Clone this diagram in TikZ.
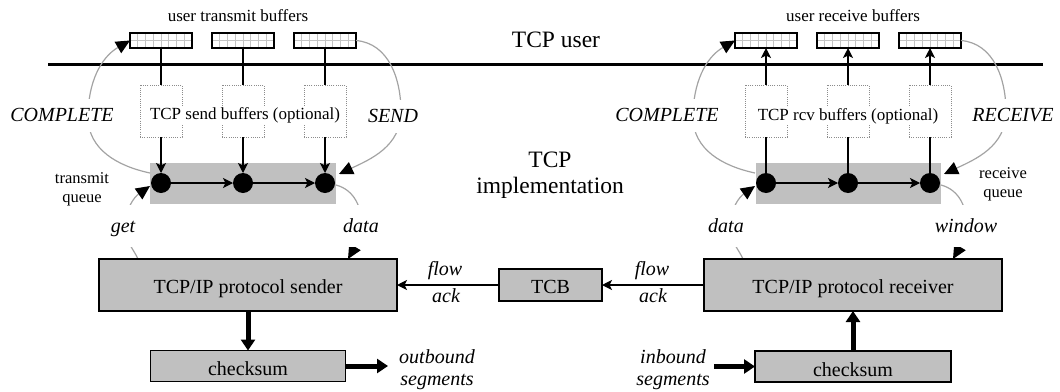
\documentclass[tikz,border=0pt]{standalone}
\usepackage{fontspec}
\setmainfont{Liberation Serif}
\usetikzlibrary{arrows.meta}
\definecolor{boxgray}{HTML}{C0C0C0}
\definecolor{curvegray}{HTML}{A3A3A3}
\definecolor{gridgray}{HTML}{C4C4C4}
\definecolor{dotgray}{HTML}{8C8C8C}
\begin{document}
\begin{tikzpicture}[x=1pt,y=1pt,
  every node/.style={inner sep=0pt, outer sep=0pt},
  fbig/.style={font=\fontsize{23.5}{26}\selectfont},
  fsmall/.style={font=\fontsize{17}{19}\selectfont},
  fqueue/.style={font=\fontsize{16.5}{19}\selectfont, align=center},
  curvelbl/.style={font=\fontsize{20}{24}\selectfont\itshape, fill=white, anchor=base, text height=16pt, text depth=5pt, inner xsep=2pt, inner ysep=6pt},
  lowlbl/.style={curvelbl, inner ysep=11pt, text depth=4pt},
  plainlbl/.style={font=\fontsize{20}{24}\selectfont\itshape, anchor=base},
  buf/.style={draw=black, line width=1.3pt, fill=white, minimum width=62pt, minimum height=15pt},
  optbox/.style={draw=dotgray, line width=0.8pt, dash pattern=on 1pt off 1.2pt, minimum width=42pt, minimum height=52pt},
  queuebox/.style={fill=boxgray, minimum width=186pt, minimum height=41pt},
  qdot/.style={circle, fill=black, minimum size=20pt},
  gbox/.style={draw=black, line width=1.8pt, fill=boxgray, font=\fontsize{20}{24}\selectfont, text height=17pt, text depth=0pt},
  arr/.style={line width=1.2pt, -{Stealth[length=10pt,width=10pt,inset=2.5pt]}},
  plainln/.style={line width=1.2pt},
  fat/.style={line width=5pt, -{Triangle[length=11pt,width=14pt]}},
  grayarc/.style={draw=curvegray, line width=1.2pt, -{Triangle[length=14pt,width=13pt,color=black,fill=black]}},
]
\useasboundingbox (0,0) rectangle (1060,-391);

% user / implementation divider
\coordinate (ul) at (48,-64);
\coordinate (ur) at (1043,-64);
\draw[line width=3pt] (ul) -- (ur);
\node[fbig, anchor=base] (tcpuser) at (556,-47) {TCP user};
\node[fbig, align=center] (impl) at (550,-175) {TCP\\implementation};

% buffer labels
\node[fsmall, anchor=base] (utb) at (238,-21) {user transmit buffers};
\node[fsmall, anchor=base] (urb) at (853,-21) {user receive buffers};

% buffers
\foreach \nm/\cx in {tb1/161,tb2/243,tb3/325,rb1/766,rb2/848,rb3/930}{
  \node[buf] (\nm) at (\cx,-40.5) {};
  \foreach \k in {1,...,7}{\draw[gridgray,line width=0.7pt] ({\cx-31+\k*7.75},-34.2) -- ({\cx-31+\k*7.75},-46.8);}
  \draw[gridgray,line width=0.7pt] ({\cx-30.2},-40.5) -- ({\cx+30.2},-40.5);
}

% optional buffers
\foreach \nm/\cx in {sb1/161,sb2/243,sb3/325,rv1/766,rv2/848,rv3/930}{
  \node[optbox] (\nm) at (\cx,-111) {};
}

% queues
\node[queuebox] (sq) at (243,-183.5) {};
\node[queuebox, minimum width=185pt] (rq) at (848.5,-183.5) {};

% grey curves, send side
\coordinate (cA0) at (150,-173);
\draw[grayarc] (cA0) to[out=168,in=-90] (88,-117) to[out=90,in=210] (tb1.west);
\coordinate (cB1) at (339,-174);
\draw[grayarc] (tb3.east) to[out=-5,in=90] (401,-112) to[out=-90,in=25] (cB1);
\coordinate (cC0) at (138,-259);
\coordinate (cC1) at (150,-186);
\draw[grayarc] (cC0) to[out=115,in=-90] (125,-228) to[out=90,in=215] (cC1);
\coordinate (cD0) at (336,-185);
\coordinate (cD1) at (348,-259);
\draw[grayarc] (cD0) to[out=-15,in=90] (362,-227) to[out=-90,in=60] (cD1);

% grey curves, receive side
\coordinate (rA0) at (755,-173);
\draw[grayarc] (rA0) to[out=168,in=-90] (693,-117) to[out=90,in=210] (rb1.west);
\coordinate (rB1) at (944,-174);
\draw[grayarc] (rb3.east) to[out=-5,in=90] (1006,-112) to[out=-90,in=25] (rB1);
\coordinate (rC0) at (743,-259);
\coordinate (rC1) at (755,-186);
\draw[grayarc] (rC0) to[out=115,in=-90] (730,-228) to[out=90,in=215] (rC1);
\coordinate (rD0) at (941,-185);
\coordinate (rD1) at (953,-259);
\draw[grayarc] (rD0) to[out=-15,in=90] (967,-227) to[out=-90,in=60] (rD1);

% dots
\foreach \nm/\cx in {sd1/161,sd2/243,sd3/325,rd1/766,rd2/848,rd3/930}{
  \node[qdot] (\nm) at (\cx,-183) {};
}

% buffer paths
\foreach \i in {1,2,3}{
  \draw[plainln] (tb\i.south) -- (sb\i.north);
  \draw[arr] (sb\i.south) -- (sd\i.north);
  \draw[plainln] (rd\i.north) -- (rv\i.south);
  \draw[arr] (rv\i.north) -- (rb\i.south);
}
\draw[arr] (sd1.east) -- (sd2.west);
\draw[arr] (sd2.east) -- (sd3.west);
\draw[arr] (rd1.east) -- (rd2.west);
\draw[arr] (rd2.east) -- (rd3.west);

\node[fsmall, fill=white, anchor=base, inner sep=1pt] (sendtxt) at (245,-119) {TCP send buffers (optional)};
\node[fsmall, fill=white, anchor=base, inner sep=1pt] (rcvtxt) at (848,-120) {TCP rcv buffers (optional)};

% curve labels
\node[curvelbl] (lcomp) at (62,-121) {COMPLETE};
\node[curvelbl] (lsend) at (393,-122) {SEND};
\node[curvelbl] (rcomp) at (667,-121) {COMPLETE};
\node[curvelbl] (rrecv) at (1013,-121) {RECEIVE};
\node[lowlbl] (lget) at (123,-232) {get};
\node[lowlbl] (ldata) at (361,-232) {data};
\node[lowlbl] (rdata) at (726,-232) {data};
\node[lowlbl] (rwin) at (966,-232) {window};

% queue labels
\node[fqueue] (tq) at (82,-189) {transmit\\queue};
\node[fqueue] (rqlbl) at (1003,-184) {receive\\queue};

% protocol boxes
\node[gbox, minimum width=298pt, minimum height=52pt] (snd) at (248,-285) {TCP/IP protocol sender};
\node[gbox, minimum width=298pt, minimum height=52pt] (rcv) at (853,-285) {TCP/IP protocol receiver};
\node[gbox, minimum width=103pt, minimum height=32pt] (tcb) at (550.5,-285) {TCB};
\node[gbox, minimum width=195pt, minimum height=31pt, text height=19pt] (cks) at (248,-366) {checksum};
\node[gbox, minimum width=196pt, minimum height=31pt, text height=19pt] (ckr) at (853,-366.5) {checksum};

\draw[arr] (tcb.west) -- (snd.east);
\draw[arr] (rcv.west) -- (tcb.east);
\node[plainlbl] (fl1) at (445,-275) {flow};
\node[plainlbl] (ak1) at (446,-302) {ack};
\node[plainlbl] (fl2) at (652,-275) {flow};
\node[plainlbl] (ak2) at (653,-302) {ack};

\draw[fat] (snd.south) -- (cks.north);
\draw[fat] (ckr.north) -- (rcv.south);
\coordinate (outend) at (388,-366);
\draw[fat] (cks.east) -- (outend);
\coordinate (instart) at (714,-366.5);
\draw[fat] (instart) -- (ckr.west);

\node[plainlbl] (ob1) at (437,-363) {outbound};
\node[plainlbl] (ob2) at (437,-385) {segments};
\node[plainlbl] (ib1) at (673,-363) {inbound};
\node[plainlbl] (ib2) at (673,-385) {segments};
\end{tikzpicture}
\end{document}
